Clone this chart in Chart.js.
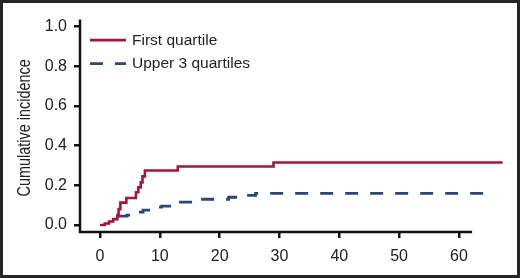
<!DOCTYPE html>
<html>
<head>
<meta charset="utf-8">
<script src="https://cdn.jsdelivr.net/npm/chart.js@4/dist/chart.umd.min.js"></script>
<style>
  body { margin: 0; background: #fff; }
  #frame { width: 520px; height: 278px; box-sizing: border-box; border: 3px solid #262626; background: #fff; }
  #frame canvas { display: block; }
</style>
</head>
<body>
<div id="frame"><canvas id="cif" width="514" height="272"></canvas></div>
<script>
// datos (meses vs incidencia acumulada)
const firstX = [0, 0.8, 1.5, 2.2, 2.9, 3.1, 3.4, 4.4, 6.0, 6.4, 6.8, 7.1, 7.5, 13.0, 29.0, 67.3];
const firstY = [0, 0.008, 0.018, 0.03, 0.05, 0.08, 0.113, 0.136, 0.165, 0.19, 0.215, 0.245, 0.275, 0.295, 0.315, 0.315];

const upperX = [3.0, 4.5, 6.5, 7.2, 9.5, 10.3, 12.8, 16.0, 21.5, 23.5, 26.0, 65.5];
const upperY = [0.045, 0.05, 0.065, 0.075, 0.09, 0.095, 0.115, 0.13, 0.14, 0.15, 0.16, 0.16];

const seriesLabels = ['First quartile', 'Upper 3 quartiles'];
const xTicks = [0, 10, 20, 30, 40, 50, 60];
const yTicks = [0, 0.2, 0.4, 0.6, 0.8, 1.0];
const yTitle = 'Cumulative incidence';

const toPoints = (xs, ys) => xs.map((x, i) => ({ x: x, y: ys[i] }));

// ejes separados: dibujamos las lineas del eje a mano
const axisLines = {
  id: 'axisLines',
  afterDatasetsDraw(chart) {
    const { ctx, chartArea, scales } = chart;
    const xEnd = scales.x.getPixelForValue(62.2);
    ctx.save();
    ctx.strokeStyle = '#111';
    ctx.lineWidth = 2.5;
    ctx.beginPath();
    ctx.moveTo(chartArea.left, chartArea.top);
    ctx.lineTo(chartArea.left, chartArea.bottom);
    ctx.lineTo(xEnd, chartArea.bottom);
    ctx.stroke();
    ctx.restore();
  }
};

// titulo del eje y en letra estrecha (condensada)
const narrowTitle = {
  id: 'narrowTitle',
  afterDraw(chart) {
    const { ctx, chartArea } = chart;
    ctx.save();
    ctx.translate(22, (chartArea.top + chartArea.bottom) / 2 + 2);
    ctx.rotate(-Math.PI / 2);
    ctx.scale(0.76, 1);
    ctx.fillStyle = '#222';
    ctx.font = '19px "Liberation Sans", Arial, sans-serif';
    ctx.textAlign = 'center';
    ctx.textBaseline = 'middle';
    ctx.fillText(yTitle, 0, 0);
    ctx.restore();
  }
};

// leyenda dentro del area del grafico
const innerLegend = {
  id: 'innerLegend',
  afterDraw(chart) {
    const { ctx, chartArea } = chart;
    const x0 = chartArea.left + 10;
    ctx.save();
    chart.data.datasets.forEach((ds, i) => {
      const y = chartArea.top + 20.5 + i * 23.5;
      ctx.strokeStyle = ds.borderColor;
      ctx.lineWidth = ds.borderWidth;
      ctx.setLineDash(ds.borderDash || []);
      ctx.beginPath();
      ctx.moveTo(x0, y);
      ctx.lineTo(x0 + 36, y);
      ctx.stroke();
      ctx.setLineDash([]);
      ctx.fillStyle = '#222';
      ctx.font = '15.5px "Liberation Sans", Arial, sans-serif';
      ctx.textBaseline = 'middle';
      ctx.fillText(ds.label, x0 + 42, y + 0.5);
    });
    ctx.restore();
  }
};

const config = {
  type: 'line',
  data: {
    datasets: [{
      label: seriesLabels[0],
      data: toPoints(firstX, firstY),
      borderColor: '#a4163a',
      borderWidth: 2.6,
      stepped: true,
      pointRadius: 0,
      fill: false
    },
    {
      label: seriesLabels[1],
      data: toPoints(upperX, upperY),
      borderColor: '#2c4777',
      borderWidth: 2.8,
      borderDash: [13, 12],
      stepped: true,
      pointRadius: 0,
      fill: false
    }]
  },
  options: {
    responsive: false,
    animation: false,
    layout: { padding: { top: 14, right: 12, left: 0, bottom: 0 } },
    plugins: {
      legend: { display: false },
      tooltip: { enabled: false }
    },
    scales: {
      x: {
        type: 'linear',
        min: -3.35,
        max: 67.7,
        border: { display: false },
        grid: { drawOnChartArea: false, drawTicks: true, tickLength: 6, lineWidth: 2.5, color: '#111' },
        afterBuildTicks: (scale) => { scale.ticks = xTicks.map(v => ({ value: v })); },
        afterFit: (scale) => { scale.height = 43; },
        ticks: {
          padding: 9,
          color: '#222',
          font: { family: '"Liberation Sans", Arial, sans-serif', size: 16 },
          callback: (v) => String(v)
        }
      },
      y: {
        min: -0.035,
        max: 1.035,
        border: { display: false },
        grid: { drawOnChartArea: false, drawTicks: true, tickLength: 6, lineWidth: 2.5, color: '#111' },
        afterBuildTicks: (scale) => { scale.ticks = yTicks.map(v => ({ value: v })); },
        afterFit: (scale) => { scale.width = 77; },
        ticks: {
          padding: 7,
          color: '#222',
          font: { family: '"Liberation Sans", Arial, sans-serif', size: 16 },
          callback: (v) => v.toFixed(1)
        }
      }
    }
  },
  plugins: [axisLines, narrowTitle, innerLegend]
};

new Chart(document.querySelector('#cif'), config);
</script>
</body>
</html>
